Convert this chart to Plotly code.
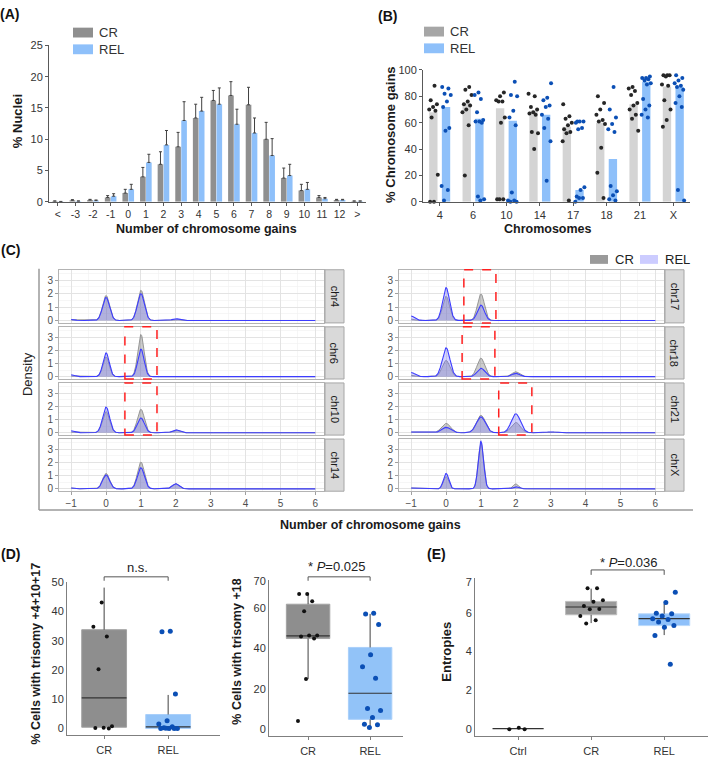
import numpy as np
import plotly.graph_objects as go

W, H = 709, 759
FONT = "Liberation Sans, Arial, Helvetica, sans-serif"

# ---------------- Panel A data ----------------
a_categories = ["<", "-3", "-2", "-1", "0", "1", "2", "3", "4", "5", "6", "7", "8", "9", "10", "11", "12", ">"]
a_cr_mean = [0.1, 0.25, 0.3, 0.7, 1.4, 4.0, 6.0, 8.8, 13.4, 16.2, 17.0, 15.5, 10.0, 3.8, 1.8, 0.7, 0.3, 0.1]
a_cr_sem = [0.05, 0.1, 0.1, 0.3, 0.6, 1.5, 2.0, 2.3, 2.2, 1.6, 2.2, 2.8, 2.7, 1.6, 1.0, 0.3, 0.1, 0.05]
a_rel_mean = [0.05, 0.1, 0.2, 0.9, 2.0, 6.3, 9.1, 13.0, 14.5, 15.6, 12.4, 11.0, 7.4, 4.2, 2.0, 0.5, 0.3, 0.1]
a_rel_sem = [0.02, 0.05, 0.1, 0.4, 0.8, 1.3, 2.3, 3.0, 2.2, 2.6, 2.4, 2.4, 2.7, 1.8, 1.1, 0.2, 0.1, 0.05]

# ---------------- Panel B data ----------------
b_chromosomes = ["4", "6", "10", "14", "17", "18", "21", "X"]
b_cr_bar = [68, 75, 71, 69, 57, 60, 74, 87.5]
b_rel_bar = [72, 63, 61.5, 66, 9, 32.5, 91, 87]
b_cr_points = [
    [88, 77, 74, 72, 70, 69, 64, 20.5, 0, 0],
    [87, 85, 81, 76, 74, 73, 70, 68, 58, 20],
    [83, 80, 77, 76, 76, 64, 60, 2, 2, 2],
    [82, 80, 72, 70, 68, 67, 66, 53, 52, 40],
    [74, 65, 63, 60, 58, 55, 53, 52, 46, 1],
    [80, 75, 70, 66, 62, 61, 59, 41, 22, 3],
    [87, 86, 84, 81, 75, 73, 70, 66, 63, 54],
    [96, 96, 96, 95, 89, 88, 77, 70, 62, 57],
]
b_rel_points = [
    [87, 86, 82, 81, 76, 72, 56, 54, 12, 9, 1],
    [83, 81, 78, 68, 62, 61, 61, 60, 4, 2, 1],
    [91, 81, 80, 69, 64, 58, 7, 1, 1, 0, 0],
    [90, 79, 77, 73, 72, 66, 63, 56, 46, 16],
    [61, 61, 61, 60, 56, 55, 11, 9, 4, 3, 3, 0],
    [87, 70, 64, 59, 55, 53, 12, 8, 5, 2, 1],
    [95, 94, 94, 93, 92, 90, 89, 78, 73, 70, 66, 64],
    [96, 94, 92, 90, 88, 87, 85, 80, 75, 72, 9, 1],
]

# ---------------- Panel C data (density peak heights at gain levels) ----------------
c_chromosomes = ["chr4", "chr6", "chr10", "chr14", "chr17", "chr18", "chr21", "chrX"]
c_levels = [-1, 0, 1, 2, 3, 4]
c_cr_peaks = [
    [0.05, 1.86, 2.25, 0.08, 0.0, 0.0],
    [0.05, 1.50, 3.20, 0.03, 0.0, 0.0],
    [0.05, 1.60, 1.78, 0.20, 0.0, 0.0],
    [0.06, 1.17, 2.03, 0.38, 0.05, 0.02],
    [0.10, 1.80, 1.98, 0.02, 0.0, 0.0],
    [0.10, 1.23, 1.40, 0.37, 0.0, 0.0],
    [0.05, 0.71, 1.32, 0.78, 0.07, 0.03],
    [0.06, 0.93, 3.50, 0.37, 0.0, 0.0],
]
c_rel_peaks = [
    [0.08, 1.72, 2.00, 0.13, 0.0, 0.0],
    [0.15, 1.80, 2.08, 0.02, 0.0, 0.0],
    [0.15, 1.95, 1.12, 0.22, 0.0, 0.0],
    [0.06, 1.05, 1.60, 0.38, 0.05, 0.02],
    [0.34, 2.45, 1.14, 0.02, 0.0, 0.0],
    [0.32, 2.19, 0.64, 0.25, 0.0, 0.0],
    [0.05, 0.41, 1.20, 1.44, 0.07, 0.03],
    [0.06, 1.17, 3.60, 0.15, 0.0, 0.0],
]
c_bandwidth = [0.10, 0.09, 0.10, 0.10, 0.10, 0.11, 0.13, 0.075]
c_highlights = [("chr6", 0.54, 1.46), ("chr10", 0.54, 1.46), ("chr17", 0.51, 1.43),
                ("chr18", 0.46, 1.40), ("chr21", 1.51, 2.46)]

# ---------------- Panel D data ----------------
d_groups = ["CR", "REL"]
d1_cr = [43.1, 34.8, 31.5, 20.3, 0.8, 0.3, 0.2, 0.0, -2.8]
d1_rel = [33.3, 33.1, 11.8, 2.7, 1.6, 0.6, 0.3, 0.0, 0.0, 0.0, 0.0, 0.1]
d1_stats = {"q1": [0.45, 0.0], "median": [10.5, 0.55], "q3": [33.8, 4.8], "low": [0.45, 0.0], "high": [48.2, 11.5]}
d2_cr = [67, 67, 63.5, 58.5, 46.5, 46.5, 46, 45, 24.9, 4.1]
d2_rel = [57.5, 57.2, 52, 37, 31, 25.3, 10.3, 9.4, 5.9, 2.5, 2.3, 1.0]
d2_stats = {"q1": [45, 5.0], "median": [46.3, 17.9], "q3": [62, 40.6], "low": [24.9, 1.0], "high": [67, 57.2]}

# ---------------- Panel E data ----------------
e_groups = ["Ctrl", "CR", "REL"]
e_ctrl = [0.05, -0.03, -0.03]
e_cr = [7.26, 7.26, 6.64, 6.56, 6.34, 6.19, 6.17, 5.83, 5.60, 5.44]
e_rel = [7.06, 6.52, 5.97, 5.94, 5.83, 5.69, 5.64, 5.52, 5.33, 5.25, 4.82, 3.33]
e_stats = {"q1": [0, 5.89, 5.33], "median": [0, 6.29, 5.69], "q3": [0, 6.58, 5.94],
           "low": [0, 5.46, 4.84], "high": [0, 7.24, 6.45]}

# ---------------- helpers ----------------
def fx(p):
    return p / W

def fy(p):
    return 1 - p / H

def dom_x(a, b):
    return [fx(a), fx(b)]

def dom_y(top, bot):
    return [fy(bot), fy(top)]

def jitter(n, amp, phase=0.0):
    return [amp * ((((k + 1) * 0.6180339887 + phase) % 1.0) * 2 - 1) for k in range(n)]

fig = go.Figure()
shapes, annos = [], []
layout_axes = {}

def ann(text, x, y, size=12, bold=False, color="#1a1a1a", angle=0, xanchor="center", yanchor="middle"):
    t = f"<b>{text}</b>" if bold else text
    annos.append(dict(text=t, x=fx(x), y=fy(y), xref="paper", yref="paper", showarrow=False,
                      font=dict(family=FONT, size=size, color=color), textangle=angle,
                      xanchor=xanchor, yanchor=yanchor))

def rect(x0, y0, x1, y1, fill, line="rgba(0,0,0,0)", lw=0):
    shapes.append(dict(type="rect", xref="paper", yref="paper", x0=fx(x0), x1=fx(x1), y0=fy(y1), y1=fy(y0),
                       fillcolor=fill, line=dict(color=line, width=lw), layer="above"))

def base_axis(**kw):
    d = dict(showgrid=False, zeroline=False, showline=True, linecolor="#595959", linewidth=1,
             ticks="outside", ticklen=3, tickwidth=1, tickcolor="#595959",
             tickfont=dict(size=11, color="#333333", family=FONT), fixedrange=True)
    d.update(kw)
    return d

# ================= Panel A =================
n_a = len(a_categories)
xa = list(range(n_a))
fig.add_trace(go.Bar(x=[i - 0.17 for i in xa], y=a_cr_mean, width=0.32, marker=dict(color="#8f8f8f", line=dict(width=0)),
                     error_y=dict(type="data", symmetric=False, array=a_cr_sem, arrayminus=[0] * n_a,
                                  color="#404040", thickness=1, width=1.5),
                     xaxis="x", yaxis="y"))
fig.add_trace(go.Bar(x=[i + 0.17 for i in xa], y=a_rel_mean, width=0.32, marker=dict(color="#8ec0fa", line=dict(width=0)),
                     error_y=dict(type="data", symmetric=False, array=a_rel_sem, arrayminus=[0] * n_a,
                                  color="#404040", thickness=1, width=1.5),
                     xaxis="x", yaxis="y"))
layout_axes["xaxis"] = base_axis(domain=dom_x(49, 366), range=[-0.5, n_a - 0.5], tickvals=xa, ticktext=a_categories,
                                 anchor="y", tickfont=dict(size=10.5, color="#333333", family=FONT))
layout_axes["yaxis"] = base_axis(domain=dom_y(40, 199), range=[0, 25], dtick=5, anchor="x")
ann("(A)", 9, 8, size=14, bold=True, color="#111")
ann("% Nuclei", 17, 117, size=13, bold=True, angle=-90)
ann("Number of chromosome gains", 206, 227, size=12.5, bold=True)
rect(73, 22, 93, 32, "#8f8f8f")
rect(73, 39, 93, 49, "#8ec0fa")
ann("CR", 97, 27, size=13, color="#333", xanchor="left")
ann("REL", 97, 44, size=13, color="#333", xanchor="left")

# ================= Panel B =================
n_b = len(b_chromosomes)
fig.add_trace(go.Bar(x=[i - 0.19 for i in range(n_b)], y=b_cr_bar, width=0.25,
                     marker=dict(color="#d4d4d4", line=dict(width=0)), xaxis="x2", yaxis="y2"))
fig.add_trace(go.Bar(x=[i + 0.19 for i in range(n_b)], y=b_rel_bar, width=0.25,
                     marker=dict(color="#8ec0fa", line=dict(width=0)), xaxis="x2", yaxis="y2"))
bx_cr, by_cr, bx_rel, by_rel = [], [], [], []
for i in range(n_b):
    j = jitter(len(b_cr_points[i]), 0.15, phase=0.13 * i)
    bx_cr += [i - 0.19 + o for o in j]
    by_cr += b_cr_points[i]
    j = jitter(len(b_rel_points[i]), 0.15, phase=0.29 * i + 0.5)
    bx_rel += [i + 0.19 + o for o in j]
    by_rel += b_rel_points[i]
fig.add_trace(go.Scatter(x=bx_cr, y=by_cr, mode="markers", marker=dict(size=4, color="#262626"),
                         cliponaxis=False, xaxis="x2", yaxis="y2"))
fig.add_trace(go.Scatter(x=bx_rel, y=by_rel, mode="markers", marker=dict(size=4, color="#0b4fb5"),
                         cliponaxis=False, xaxis="x2", yaxis="y2"))
layout_axes["xaxis2"] = base_axis(domain=dom_x(423, 690), range=[-0.5, n_b - 0.5], tickvals=list(range(n_b)),
                                  ticktext=b_chromosomes, anchor="y2")
layout_axes["yaxis2"] = base_axis(domain=dom_y(65, 199), range=[0, 100], dtick=20, anchor="x2")
ann("(B)", 387, 10, size=14, bold=True, color="#111")
ann("% Chromosome gains", 391, 131, size=13, bold=True, angle=-90)
ann("Chromosomes", 548, 227, size=12.5, bold=True)
rect(424, 21, 444, 31, "#a6a6a6")
rect(424, 38, 444, 48, "#8ec0fa")
ann("CR", 448, 26, size=13, color="#333", xanchor="left")
ann("REL", 448, 43, size=13, color="#333", xanchor="left")

# ================= Panel C =================
c_cols = [(59, 324), (399, 664)]
c_strips = [(325, 344), (665, 684)]
c_rows = [(268, 322), (326, 379), (383, 436), (440, 493)]
grid_x = np.linspace(-1, 6, 701)
c_xrange = [-1.35, 6.25]
c_yrange = [-0.18, 3.78]

def density(peaks, bw):
    y = np.zeros_like(grid_x)
    for lvl, h in zip(c_levels, peaks):
        y += h * np.exp(-0.5 * ((grid_x - lvl) / bw) ** 2)
    return y

for i, chrom in enumerate(c_chromosomes):
    col, row = divmod(i, 4)
    n = 3 + i
    xr, yr = f"x{n}", f"y{n}"
    fig.add_trace(go.Scatter(x=grid_x, y=density(c_cr_peaks[i], c_bandwidth[i]), mode="lines",
                             line=dict(color="#8c8c8c", width=0.9), fill="tozeroy",
                             fillcolor="rgba(110,110,110,0.35)", xaxis=xr, yaxis=yr))
    fig.add_trace(go.Scatter(x=grid_x, y=density(c_rel_peaks[i], c_bandwidth[i]), mode="lines",
                             line=dict(color="#3d3dff", width=1.1), fill="tozeroy",
                             fillcolor="rgba(120,120,255,0.33)", xaxis=xr, yaxis=yr))
    x0, x1 = c_cols[col]
    top, bot = c_rows[row]
    bottom_row = row == 3
    layout_axes[f"xaxis{n}"] = dict(
        domain=dom_x(x0, x1), range=c_xrange, anchor=yr, tick0=0, dtick=1,
        showgrid=True, gridcolor="#e3e3e3", gridwidth=1,
        minor=dict(tick0=0, dtick=0.5, showgrid=True, gridcolor="#f2f2f2", gridwidth=0.7),
        showline=True, mirror=True, linecolor="#b3b3b3", linewidth=1, zeroline=False,
        showticklabels=bottom_row, ticks="outside" if bottom_row else "", ticklen=3, tickcolor="#a0a0a0",
        tickfont=dict(size=10, color="#4d4d4d", family=FONT), fixedrange=True)
    layout_axes[f"yaxis{n}"] = dict(
        domain=dom_y(top, bot), range=c_yrange, anchor=xr, tickvals=[0, 1, 2, 3],
        showgrid=True, gridcolor="#e3e3e3", gridwidth=1,
        minor=dict(tickvals=[0.5, 1.5, 2.5, 3.5], showgrid=True, gridcolor="#f2f2f2", gridwidth=0.7),
        showline=True, mirror=True, linecolor="#b3b3b3", linewidth=1, zeroline=False,
        ticks="outside", ticklen=3, tickcolor="#a0a0a0",
        tickfont=dict(size=10, color="#4d4d4d", family=FONT), fixedrange=True)
    sx0, sx1 = c_strips[col]
    rect(sx0, top, sx1, bot, "#d9d9d9", line="#a6a6a6", lw=1)
    ann(chrom, (sx0 + sx1) / 2, (top + bot) / 2, size=11, color="#1a1a1a", angle=90)

for chrom, hx0, hx1 in c_highlights:
    n = 3 + c_chromosomes.index(chrom)
    shapes.append(dict(type="rect", xref=f"x{n}", yref=f"y{n} domain", x0=hx0, x1=hx1, y0=0, y1=1,
                       line=dict(color="#ff1f1f", width=1.5, dash="dash"), fillcolor="rgba(0,0,0,0)", layer="above"))

shapes.append(dict(type="line", xref="paper", yref="paper", x0=fx(39), x1=fx(39), y0=fy(512), y1=fy(267),
                   line=dict(color="#9a9a9a", width=1.5)))
shapes.append(dict(type="line", xref="paper", yref="paper", x0=fx(39), x1=fx(693), y0=fy(512), y1=fy(512),
                   line=dict(color="#9a9a9a", width=1.5)))
ann("(C)", 10, 248, size=14, bold=True, color="#111")
ann("Density", 27, 374, size=13, color="#222", angle=-90)
ann("Number of chromosome gains", 370, 527, size=12.5, bold=True)
rect(590, 253, 608, 262, "#9a9a9a")
rect(640, 253, 658, 262, "#ccccff")
ann("CR", 613, 258, size=13, color="#222", xanchor="left")
ann("REL", 663, 258, size=13, color="#222", xanchor="left")

# ================= Box panels D / E =================
def box_panel(n, groups, stats, points, colors, edge, dot_colors, dot_sizes, bw=0.7):
    xr, yr = f"x{n}", f"y{n}"
    for g in range(len(groups)):
        fig.add_trace(go.Bar(x=[g], y=[stats["q3"][g] - stats["q1"][g]], base=[stats["q1"][g]], width=bw,
                             marker=dict(color=colors[g], line=dict(color=edge[g], width=1)),
                             xaxis=xr, yaxis=yr))
    wx, wy, mx, my = [], [], [], []
    for g in range(len(groups)):
        wx += [g, g, None, g, g, None]
        wy += [stats["q3"][g], stats["high"][g], None, stats["q1"][g], stats["low"][g], None]
        mx += [g - bw / 2, g + bw / 2, None]
        my += [stats["median"][g], stats["median"][g], None]
    fig.add_trace(go.Scatter(x=wx, y=wy, mode="lines", line=dict(color="#404040", width=1),
                             xaxis=xr, yaxis=yr))
    fig.add_trace(go.Scatter(x=mx, y=my, mode="lines", line=dict(color="#333333", width=1.2),
                             xaxis=xr, yaxis=yr))
    for g, pts in enumerate(points):
        j = jitter(len(pts), 0.17, phase=0.21 * g + 0.07 * n)
        fig.add_trace(go.Scatter(x=[g + o for o in j], y=pts, mode="markers",
                                 marker=dict(size=dot_sizes[g], color=dot_colors[g]),
                                 cliponaxis=False, xaxis=xr, yaxis=yr))

def bracket(n, g0, g1, y_low, y_high, text, ty, tx_px):
    shapes.append(dict(type="path", xref=f"x{n}", yref="paper",
                       path=f"M {g0},{fy(y_low)} L {g0},{fy(y_high)} L {g1},{fy(y_high)} L {g1},{fy(y_low)}",
                       line=dict(color="#555555", width=1)))
    ann(text, tx_px, ty, size=13, color="#222")

box_axis_kw = dict(linecolor="#7f7f7f", tickcolor="#7f7f7f", tickfont=dict(size=11, color="#333333", family=FONT))

# D1
box_panel(11, d_groups, d1_stats, [d1_cr, d1_rel], ["#8e8e8e", "#92c3f8"], ["#a3a3a3", "#a9cffa"],
          ["#111111", "#0b4fb5"], [4, 5])
layout_axes["xaxis11"] = base_axis(domain=dom_x(67, 220), range=[-0.58, 1.81], tickvals=[0, 1], ticktext=d_groups,
                                   anchor="y11", ticklabelstandoff=2, **box_axis_kw)
layout_axes["yaxis11"] = base_axis(domain=dom_y(585, 741), range=[-2.3, 50.2], dtick=10, anchor="x11",
                                   ticks="", **box_axis_kw)
bracket(11, 0, 1, 584, 580, "n.s.", 571, 137)
ann("(D)", 10, 557, size=14, bold=True, color="#111")
ann("% Cells with trisomy +4+10+17", 36, 658, size=12.5, bold=True, angle=-90)

# D2
box_panel(12, d_groups, d2_stats, [d2_cr, d2_rel], ["#8e8e8e", "#92c3f8"], ["#a3a3a3", "#a9cffa"],
          ["#111111", "#0b4fb5"], [4, 5])
layout_axes["xaxis12"] = base_axis(domain=dom_x(269, 403), range=[-0.63, 1.53], tickvals=[0, 1], ticktext=d_groups,
                                   anchor="y12", ticklabelstandoff=2, **box_axis_kw)
layout_axes["yaxis12"] = base_axis(domain=dom_y(583, 742), range=[-3.4, 74.1], tickvals=[0, 20, 40, 60, 73.6],
                                   ticktext=["0", "20", "40", "60", "70"], anchor="x12", ticks="", **box_axis_kw)
bracket(12, 0, 1, 584, 580, "* <i>P</i>=0.025", 570, 336)
ann("% Cells with trisomy +18", 237, 656, size=12.5, bold=True, angle=-90)

# E
box_panel(13, e_groups, e_stats, [e_ctrl, e_cr, e_rel], ["#ffffff", "#999999", "#8ec0fa"],
          ["#ffffff", "#bdbdbd", "#b9d9fb"], ["#111111", "#111111", "#0b4fb5"], [4, 4, 5])
layout_axes["xaxis13"] = base_axis(domain=dom_x(475, 708), range=[-0.59, 2.6], tickvals=[0, 1, 2], ticktext=e_groups,
                                   anchor="y13", ticklabelstandoff=2, **box_axis_kw)
layout_axes["yaxis13"] = base_axis(domain=dom_y(581, 742), range=[-0.39, 7.8], tickvals=[0, 2, 4, 6, 7.6],
                                   ticktext=["0", "2", "4", "6", "7"], anchor="x13", ticks="", **box_axis_kw)
bracket(13, 1, 2, 578, 573, "* <i>P</i>=0.036", 565, 628)
ann("(E)", 436, 557, size=14, bold=True, color="#111")
ann("Entropies", 447, 656, size=13, bold=True, angle=-90)

fig.update_layout(
    width=W, height=H, margin=dict(l=0, r=0, t=0, b=0),
    paper_bgcolor="white", plot_bgcolor="white", showlegend=False,
    barmode="overlay", font=dict(family=FONT, color="#333"),
    shapes=shapes, annotations=annos, **layout_axes)
fig.write_html("out.html", config={"displayModeBar": False, "staticPlot": True},
               post_script="document.body.style.margin='0px';document.body.style.overflow='hidden';")
